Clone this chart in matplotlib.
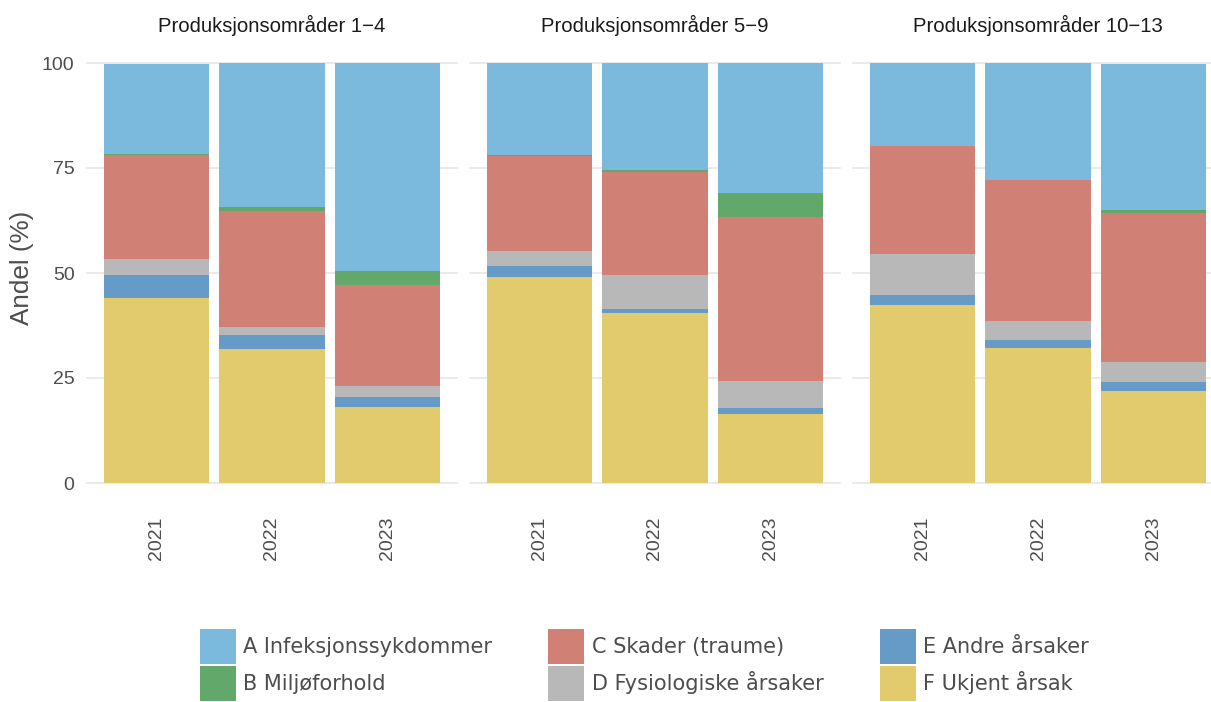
import matplotlib.pyplot as plt
from matplotlib.patches import Patch

# Shares (%) per cause, per production area and year
years = ["2021", "2022", "2023"]
panels = ["Produksjonsområder 1\u22124", "Produksjonsområder 5\u22129", "Produksjonsområder 10\u221213"]

causes = ["A Infeksjonssykdommer", "B Miljøforhold", "C Skader (traume)",
          "D Fysiologiske årsaker", "E Andre årsaker", "F Ukjent årsak"]

# stacked from bottom: F, E, D, C, B, A
po1_F = [44.1, 31.9, 18.1]
po1_E = [5.4, 3.3, 2.4]
po1_D = [3.8, 1.9, 2.6]
po1_C = [24.8, 27.7, 24.0]
po1_B = [0.3, 0.9, 3.4]
po1_A = [21.4, 34.3, 49.5]

po5_F = [49.0, 40.5, 16.4]
po5_E = [2.7, 0.9, 1.5]
po5_D = [3.5, 8.1, 6.4]
po5_C = [22.7, 24.5, 39.0]
po5_B = [0.2, 0.5, 5.7]
po5_A = [21.9, 25.5, 31.0]

po10_F = [42.4, 32.1, 21.9]
po10_E = [2.4, 1.9, 2.1]
po10_D = [9.7, 4.6, 4.8]
po10_C = [25.7, 33.5, 35.5]
po10_B = [0.0, 0.0, 0.7]
po10_A = [19.8, 27.9, 34.8]

colors = {
    "A": "#7bb9dd",
    "B": "#63a86b",
    "C": "#d08075",
    "D": "#b8b8b9",
    "E": "#669bc8",
    "F": "#e2cb6c",
}

panel_data = [
    {"F": po1_F, "E": po1_E, "D": po1_D, "C": po1_C, "B": po1_B, "A": po1_A},
    {"F": po5_F, "E": po5_E, "D": po5_D, "C": po5_C, "B": po5_B, "A": po5_A},
    {"F": po10_F, "E": po10_E, "D": po10_D, "C": po10_C, "B": po10_B, "A": po10_A},
]

plt.rcParams["font.family"] = ["Liberation Sans", "DejaVu Sans"]

W, H = 1211, 702
fig = plt.figure(figsize=(W / 100, H / 100), dpi=100)

lefts = [87, 470, 853]
ax_w = 370
ax_bottom = 1 - 483 / H
ax_h = 420 / H

x = list(range(len(years)))

for i, (left, title, d) in enumerate(zip(lefts, panels, panel_data)):
    ax = fig.add_axes([left / W, ax_bottom, ax_w / W, ax_h])
    bottom = [0.0] * len(years)
    for key in ["F", "E", "D", "C", "B", "A"]:
        ax.bar(x, d[key], bottom=bottom, width=0.91, color=colors[key],
               linewidth=0, zorder=2)
        bottom = [b + v for b, v in zip(bottom, d[key])]

    ax.set_xlim(-0.6, 2.6)
    ax.set_ylim(0, 100)
    for yv in [0, 25, 50, 75, 100]:
        ax.axhline(yv, color="#e6e6e6", linewidth=1.2, zorder=1, clip_on=False)

    for s in ax.spines.values():
        s.set_visible(False)

    ax.set_xticks(x)
    ax.set_xticklabels(years, rotation=90, fontsize=14, color="#4d4d4d",
                       va="top", ha="center")
    ax.tick_params(axis="x", length=0, pad=24)

    if i == 0:
        ax.set_yticks([0, 25, 50, 75, 100])
        ax.set_yticklabels(["0", "25", "50", "75", "100"], fontsize=14,
                           color="#4d4d4d")
        ax.tick_params(axis="y", length=0, pad=9)
    else:
        ax.set_yticks([])

    ax.set_title(title, fontsize=14.6, color="#1a1a1a", pad=22)

fig.text(22 / W, 1 - 268 / H, "Andel (%)", rotation=90, ha="center",
         va="center", fontsize=18.8, color="#4d4d4d")

handles = [Patch(facecolor=colors[c[0]], edgecolor="none", label=c) for c in causes]
fig.legend(handles=handles, ncol=3, loc="upper left",
           bbox_to_anchor=(200 / W, 1 - 629 / H), frameon=False,
           prop={"family": ["DejaVu Sans"], "size": 15},
           labelcolor="#4d4d4d", handlelength=1.73, handleheight=2.2,
           handletextpad=0.34, labelspacing=0.1, columnspacing=2.7,
           borderpad=0, borderaxespad=0)

plt.savefig("out.png", dpi=100)
